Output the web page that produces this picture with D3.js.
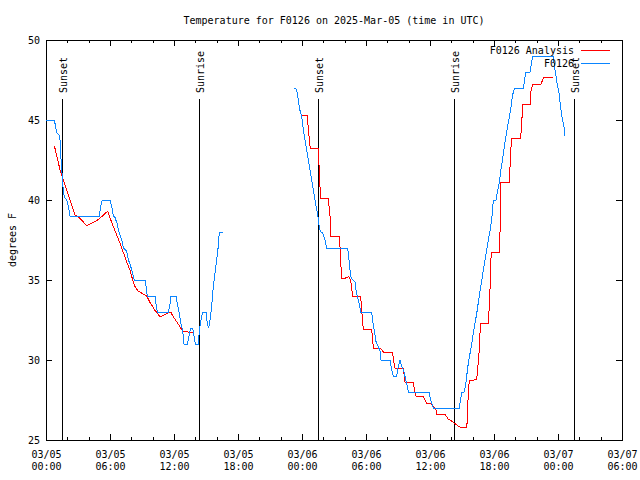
<!DOCTYPE html>
<html>
<head>
<meta charset="utf-8">
<script src="https://cdn.jsdelivr.net/npm/d3@7"></script>
<style>
  body { margin: 0; background: #fff; }
  text { font-family: "DejaVu Sans Mono", monospace; font-size: 10px; fill: #000; }
</style>
</head>
<body>
<div id="chart"></div>
<script>
// hours after 2025-03-05 00:00 UTC
const obsHours = [0, 0.75, 0.84, 1.0, 1.22, 1.38, 1.41, 1.5, 1.62, 1.72, 1.94, 2.09, 2.25, 5.0, 5.13, 5.28, 6.0,
  6.16, 6.31, 6.47, 6.68, 6.84, 7.1, 7.25, 7.57, 7.72, 7.88, 8.13, 8.28, 9.28, 9.38, 9.5, 10.22, 10.31, 10.44,
  11.47, 11.63, 11.72, 12.19, 12.31, 12.5, 12.63, 12.82, 12.94, 13.25, 13.41, 13.57, 13.75, 13.88, 14.0, 14.28,
  14.37, 14.53, 14.69, 15.0, 15.12, 15.25, 15.38, 15.53, 15.68, 15.84, 16.0, 16.15, 16.25, 16.56,
  20.0,
  23.28, 23.5, 23.65, 23.81, 23.97, 24.12, 24.28, 24.44, 24.59, 24.75, 24.91, 25.06, 25.22, 25.38, 25.53, 25.62,
  25.75, 25.94, 26.16, 26.32, 28.28, 28.41, 28.5, 28.59, 28.75, 28.97, 29.06, 29.18, 29.37, 29.5, 30.53, 30.63,
  30.78, 30.94, 31.09, 31.31, 31.41, 32.25, 32.41, 32.56, 32.88, 33.03, 33.19, 33.34, 33.5, 33.66, 33.82, 33.97,
  35.9, 36.0, 36.16, 36.31, 38.75, 38.88, 38.97, 39.22, 39.35, 39.44, 39.59, 39.75, 39.91, 40.06, 40.22, 40.38,
  40.53, 40.69, 40.84, 41.0, 41.16, 41.32, 41.47, 41.63, 41.78, 41.94, 42.19, 42.31, 42.5, 42.63, 42.82, 42.94,
  43.1, 43.25, 43.41, 43.57, 43.72, 43.88, 44.0, 44.75, 44.91, 45.0, 45.38, 45.47, 45.63, 47.56, 47.65, 47.78,
  47.93, 48.09, 48.25, 48.4, 48.56, 48.66];
const obsTemps = [45.0, 45.0, 44.8, 44.2, 44.06, 43.5, 42.5, 41.7, 40.6, 40.2, 40.0, 39.6, 39.0, 39.0, 39.6, 40.0, 40.0,
  39.6, 39.0, 38.9, 38.5, 38.0, 37.5, 37.0, 36.8, 36.25, 36.0, 35.4, 35.0, 35.0, 34.6, 34.0, 34.0, 33.5, 33.0,
  33.0, 33.5, 34.0, 34.0, 33.5, 32.9, 32.3, 31.8, 31.0, 31.0, 31.5, 32.0, 32.0, 31.5, 31.0, 31.0,
  31.8, 32.5, 33.0, 33.0, 32.3, 32.0, 32.5, 33.3, 34.6, 35.4, 36.25, 37.1, 38.0, 38.0,
  null,
  47.0, 46.9, 46.25, 45.6, 45.2, 44.4, 43.75, 43.1, 42.5, 41.9, 41.25, 40.6, 40.0, 39.4, 38.85, 38.3,
  38.0, 37.96, 37.5, 37.0, 37.0, 36.25, 35.6, 35.2, 35.0, 34.9, 34.4, 34.0, 33.5, 33.0, 33.0, 32.4,
  31.8, 31.15, 30.9, 30.6, 30.0, 30.0, 29.4, 29.0, 29.0, 29.6, 30.0, 29.6, 29.4, 28.96, 28.5, 28.0,
  28.0, 27.7, 27.3, 27.0, 27.0, 27.6, 27.96, 28.0, 28.5, 29.0, 29.8, 30.4, 31.0, 31.7, 32.3, 32.9,
  33.6, 34.3, 34.9, 35.6, 36.25, 36.9, 37.5, 38.1, 38.75, 40.0, 40.0, 40.5, 41.1, 41.8, 42.6, 43.2,
  43.9, 44.5, 45.1, 45.7, 46.5, 46.9, 47.0, 47.0, 47.7, 48.0, 48.0, 48.4, 49.0, 49.0, 48.4, 47.9,
  47.2, 46.7, 45.8, 45.1, 44.6, 44.0];

const anaHours = [0.78, 1.31, 1.47, 1.62, 2.25, 2.72, 3.03, 3.81, 4.75, 5.22, 5.78, 6.16, 6.94, 7.5, 7.88, 8.13,
  8.34, 8.65, 9.44, 9.75, 10.22, 10.69, 11.32, 11.69, 11.93, 12.25, 12.72, 12.87, 13.81,
  18.0,
  23.97, 24.5, 24.59, 24.75, 24.81, 25.53, 25.59, 25.69, 25.75, 26.47, 26.63, 26.72, 27.5, 27.56, 27.66, 27.72,
  28.03, 28.19, 28.41, 28.56, 28.66, 28.75, 29.5, 29.6, 29.69, 29.75, 30.53, 30.63, 30.69, 31.31, 31.47, 31.62,
  32.5, 32.56, 32.72, 33.5, 33.56, 33.66, 34.44, 34.53, 34.69, 35.37, 35.53, 35.69, 36.16, 36.31, 36.56, 36.62,
  37.41, 37.56, 37.72, 37.88, 38.81, 39.44, 39.5, 39.59, 39.69, 39.91, 40.38, 40.47, 40.6, 40.69, 40.75, 41.47,
  41.53, 41.63, 41.69, 41.75, 42.5, 42.56, 42.63, 43.44, 43.57, 43.66, 44.5, 44.6, 44.69, 45.38, 45.44, 45.63,
  46.41, 46.56, 46.69, 47.56];
const anaTemps = [43.4, 41.9, 41.6, 41.25, 40.0, 39.06, 38.96, 38.4, 38.7, 38.96, 39.3, 38.6, 37.3, 36.25, 35.6, 35.0,
  34.6, 34.3, 34.0, 33.6, 33.1, 32.7, 32.9, 33.0, 32.7, 32.4, 31.9, 31.8, 31.7,
  null,
  45.3, 45.3, 44.4, 43.4, 43.2, 43.2, 42.3, 40.8, 40.1, 40.1, 38.96, 37.7, 37.7, 37.08, 35.8, 35.1,
  35.1, 35.17, 35.2, 35.0, 34.5, 34.0, 34.0, 33.1, 32.3, 31.9, 31.9, 31.25, 30.7, 30.7, 30.67, 30.5,
  30.5, 30.0, 29.5, 29.5, 29.17, 28.6, 28.6, 28.2, 27.75, 27.75, 27.5, 27.3, 27.25, 27.1, 26.9, 26.6,
  26.6, 26.46, 26.3, 26.25, 25.8, 25.8, 26.25, 28.0, 28.75, 28.7, 28.8, 29.4, 30.5, 31.7, 32.3, 32.3,
  33.0, 34.5, 36.0, 36.7, 36.7, 37.8, 41.1, 41.1, 43.1, 43.85, 43.85, 44.8, 46.0, 46.0, 46.7, 47.25,
  47.25, 47.5, 47.67, 47.67];

const sunHours = [1.53, 14.36, 25.53, 38.28, 49.53];
const sunLabels = ["Sunset", "Sunrise", "Sunset", "Sunrise", "Sunset"];

const yTicks = [25, 30, 35, 40, 45, 50];

const width = 640, height = 480;
const mLeft = 46, mRight = 622, mTop = 40, mBottom = 440;
const t0 = Date.UTC(2025, 2, 5);
const toDate = (h) => new Date(t0 + h * 3600e3);

const svg = d3.select("#chart").append("svg")
  .attr("width", width)
  .attr("height", height);

const x = d3.scaleUtc()
  .domain([toDate(0), toDate(54)])
  .range([mLeft, mRight]);
const y = d3.scaleLinear()
  .domain([25, 50])
  .range([mBottom, mTop]);

// ticks point inward, mirrored on top and right
const xMajor = d3.utcHour.every(6);
const xMinor = d3.utcHour.every(2);

svg.append("g")
  .attr("transform", `translate(0,${mBottom})`)
  .call(d3.axisBottom(x).ticks(xMinor).tickSize(-3).tickFormat(""))
  .call((g) => g.select(".domain").remove());
svg.append("g")
  .attr("transform", `translate(0,${mTop})`)
  .call(d3.axisTop(x).ticks(xMinor).tickSize(-3).tickFormat(""))
  .call((g) => g.select(".domain").remove());
svg.append("g")
  .attr("transform", `translate(0,${mTop})`)
  .call(d3.axisTop(x).ticks(xMajor).tickSize(-6).tickFormat(""))
  .call((g) => g.select(".domain").remove());

const fmtDay = d3.utcFormat("%m/%d"), fmtTime = d3.utcFormat("%H:%M");
svg.append("g")
  .attr("transform", `translate(0,${mBottom})`)
  .call(d3.axisBottom(x).ticks(xMajor).tickSize(-6).tickFormat(""))
  .call((g) => g.select(".domain").remove())
  .call((g) => g.selectAll(".tick text").each(function (d) {
    const t = d3.select(this).attr("y", null).attr("dy", null);
    t.append("tspan").attr("x", 0).attr("y", 18).text(fmtDay(d));
    t.append("tspan").attr("x", 0).attr("y", 30).text(fmtTime(d));
  }));

svg.append("g")
  .attr("transform", `translate(${mLeft},0)`)
  .call(d3.axisLeft(y).tickValues(yTicks).tickSize(-6).tickPadding(6))
  .call((g) => g.select(".domain").remove());
svg.append("g")
  .attr("transform", `translate(${mRight},0)`)
  .call(d3.axisRight(y).tickValues(yTicks).tickSize(-6).tickFormat(""))
  .call((g) => g.select(".domain").remove());

svg.selectAll(".tick line").attr("stroke", "#000").attr("shape-rendering", "crispEdges");
svg.selectAll(".tick text").style("font-family", "DejaVu Sans Mono").style("font-size", "10px").attr("fill", "#000");

// frame
svg.append("rect")
  .attr("x", mLeft).attr("y", mTop)
  .attr("width", mRight - mLeft).attr("height", mBottom - mTop)
  .attr("fill", "none").attr("stroke", "#000")
  .attr("shape-rendering", "crispEdges");

// sunrise / sunset markers
const sun = svg.append("g").selectAll("g")
  .data(sunHours.map((h, i) => ({ h, label: sunLabels[i] })))
  .join("g")
  .attr("transform", (d) => `translate(${Math.round(x(toDate(d.h))) + 0.5},0)`);
sun.append("line")
  .attr("y1", 99).attr("y2", mBottom)
  .attr("stroke", "#000").attr("shape-rendering", "crispEdges");
sun.append("text")
  .attr("transform", "translate(4,93) rotate(-90)")
  .text((d) => d.label);

// series
const line = d3.line()
  .defined((d) => d[1] != null)
  .x((d) => x(toDate(d[0])))
  .y((d) => y(d[1]));

svg.append("path")
  .datum(anaHours.map((h, i) => [h, anaTemps[i]]))
  .attr("d", line)
  .attr("fill", "none").attr("stroke", "#ff0000").attr("stroke-width", 1)
  .attr("shape-rendering", "crispEdges");

svg.append("path")
  .datum(obsHours.map((h, i) => [h, obsTemps[i]]))
  .attr("d", line)
  .attr("fill", "none").attr("stroke", "#0a85ff").attr("stroke-width", 1)
  .attr("shape-rendering", "crispEdges");

// legend
const legend = [
  { name: "F0126 Analysis", color: "#ff0000", y: 50 },
  { name: "F0126", color: "#0a85ff", y: 63 }
];
const lg = svg.append("g").selectAll("g").data(legend).join("g");
lg.append("text")
  .attr("x", 574).attr("y", (d) => d.y).attr("dy", "0.35em")
  .attr("text-anchor", "end").text((d) => d.name);
lg.append("line")
  .attr("x1", 581).attr("x2", 610)
  .attr("y1", (d) => d.y + 0.5).attr("y2", (d) => d.y + 0.5)
  .attr("stroke", (d) => d.color).attr("shape-rendering", "crispEdges");

// titles
svg.append("text")
  .attr("x", (mLeft + mRight) / 2).attr("y", 20).attr("dy", "0.35em")
  .attr("text-anchor", "middle")
  .text("Temperature for F0126 on 2025-Mar-05 (time in UTC)");
svg.append("text")
  .attr("transform", `translate(12,${(mTop + mBottom) / 2}) rotate(-90)`)
  .attr("dy", "0.35em")
  .attr("text-anchor", "middle")
  .text("degrees F");
</script>
</body>
</html>
